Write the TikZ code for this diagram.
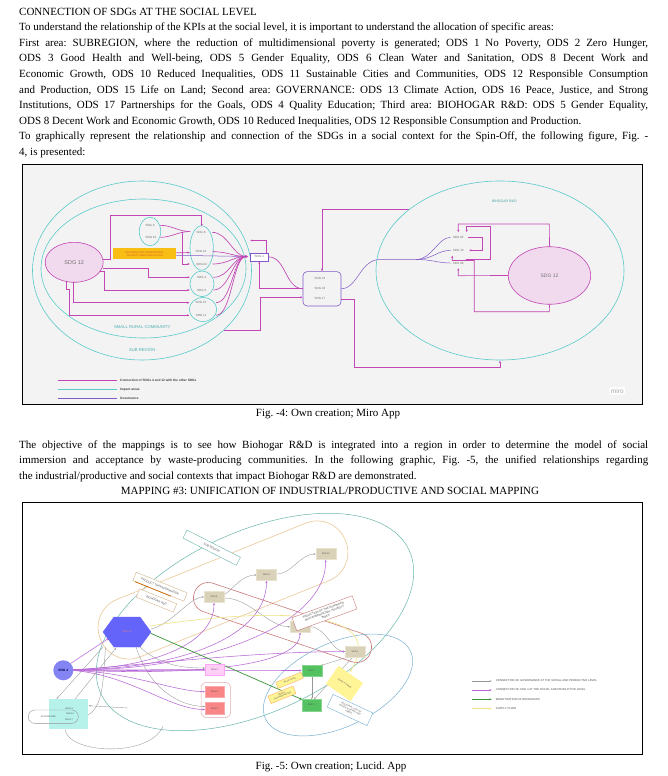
\documentclass[tikz,border=0pt]{standalone}
\usepackage{fontspec}
\setmainfont{Liberation Serif}
\setsansfont{Liberation Sans}
\usetikzlibrary{arrows.meta,shapes.geometric,calc}
\definecolor{mag}{RGB}{194,70,180}
\definecolor{tealc}{RGB}{90,202,202}
\definecolor{govp}{RGB}{128,88,200}
\definecolor{figbg}{RGB}{243,243,243}
\definecolor{pinkfill}{RGB}{241,218,238}
\definecolor{sdgtxt}{RGB}{110,110,110}
\definecolor{ylwbox}{RGB}{248,190,20}
\definecolor{ylwtxt}{RGB}{220,90,40}
\definecolor{tanfill}{RGB}{217,210,184}
\definecolor{tanedge}{RGB}{232,226,206}
\definecolor{glc}{RGB}{150,150,150}
\definecolor{sdgp}{RGB}{184,104,214}
\definecolor{mgreen}{RGB}{56,146,56}
\definecolor{supy}{RGB}{238,226,130}
\definecolor{orng}{RGB}{234,200,150}
\definecolor{redl}{RGB}{200,122,122}
\definecolor{bluel}{RGB}{120,176,210}
\definecolor{subt}{RGB}{104,182,172}
\definecolor{hexfill}{RGB}{100,100,250}
\definecolor{hextxt}{RGB}{236,130,120}
\definecolor{c4fill}{RGB}{132,132,244}
\definecolor{cyanf}{RGB}{182,242,234}
\definecolor{pinkb}{RGB}{255,206,246}
\definecolor{salmon}{RGB}{248,134,134}
\definecolor{grnf}{RGB}{84,194,96}
\definecolor{yfill}{RGB}{255,244,150}
\begin{document}
\frenchspacing
\begin{tikzpicture}[x=1pt,y=-1pt,
  body/.style={anchor=base west,inner sep=0pt,font=\fontsize{11}{13}\selectfont},
  bodyc/.style={anchor=base,inner sep=0pt,font=\fontsize{11}{13}\selectfont},
  tx/.style={inner sep=0pt,font=\sffamily\fontsize{3}{3.4}\selectfont,text=sdgtxt},
  mline/.style={draw=mag,line width=0.65pt},
  marr/.style={mline,-{Latex[length=2.4pt,width=2.2pt]}},
  gline/.style={draw=govp,line width=0.5pt},
  garr/.style={draw=glc,line width=0.35pt,-{Stealth[length=2pt,width=1.6pt]}},
  parr/.style={draw=sdgp,line width=0.55pt,-{Stealth[length=2.4pt,width=2pt]}},
  ft/.style={inner sep=0pt,font=\sffamily\fontsize{2.2}{2.6}\selectfont,text=black!70},
  tanbox/.style={ft,draw=tanedge,fill=tanfill,minimum width=20pt,minimum height=11pt},
  lg/.style={anchor=west,inner sep=0pt,font=\sffamily\bfseries\fontsize{3.2}{3.6}\selectfont,text=black!75},
  lg2/.style={anchor=west,inner sep=0pt,font=\sffamily\fontsize{2.8}{3.2}\selectfont,text=black!70},
]
\useasboundingbox (0,0) rectangle (667,776);
\fill[white] (0,0) rectangle (667,776);

% ---------------- text ----------------
\node[body] (l1) at (19,15.5) {CONNECTION OF SDGs AT THE SOCIAL LEVEL};
\node[body] (l2) at (19,31) {To understand the relationship of the KPIs at the social level, it is important to understand the allocation of specific areas:};
\node[body] (l3) at (19,46.5) {\makebox[629pt][s]{First area: SUBREGION, where the reduction of multidimensional poverty is generated; ODS 1 No Poverty, ODS 2 Zero Hunger,}};
\node[body] (l4) at (19,62) {\makebox[629pt][s]{ODS 3 Good Health and Well-being, ODS 5 Gender Equality, ODS 6 Clean Water and Sanitation, ODS 8 Decent Work and}};
\node[body] (l5) at (19,77.5) {\makebox[629pt][s]{Economic Growth, ODS 10 Reduced Inequalities, ODS 11 Sustainable Cities and Communities, ODS 12 Responsible Consumption}};
\node[body] (l6) at (19,93) {\makebox[629pt][s]{and Production, ODS 15 Life on Land; Second area: GOVERNANCE: ODS 13 Climate Action, ODS 16 Peace, Justice, and Strong}};
\node[body] (l7) at (19,108.5) {\makebox[629pt][s]{Institutions, ODS 17 Partnerships for the Goals, ODS 4 Quality Education; Third area: BIOHOGAR R\&D: ODS 5 Gender Equality,}};
\node[body] (l8) at (19,124) {ODS 8 Decent Work and Economic Growth, ODS 10 Reduced Inequalities, ODS 12 Responsible Consumption and Production.};
\node[body] (l9) at (19,139.5) {\makebox[629pt][s]{To graphically represent the relationship and connection of the SDGs in a social context for the Spin-Off, the following figure, Fig. -}};
\node[body] (l10) at (19,155) {4, is presented:};

\node[bodyc] (cap4) at (328,416.5) {Fig. -4: Own creation; Miro App};
\node[body] (p1) at (19,448) {\makebox[629pt][s]{The objective of the mappings is to see how Biohogar R\&D is integrated into a region in order to determine the model of social}};
\node[body] (p2) at (19,463.5) {\makebox[629pt][s]{immersion and acceptance by waste-producing communities. In the following graphic, Fig. -5, the unified relationships regarding}};
\node[body] (p3) at (19,479) {the industrial/productive and social contexts that impact Biohogar R\&D are demonstrated.};
\node[bodyc] (map) at (330,494.5) {MAPPING \#3: UNIFICATION OF INDUSTRIAL/PRODUCTIVE AND SOCIAL MAPPING};
\node[bodyc] (cap5) at (331,769.5) {Fig. -5: Own creation; Lucid. App};

% ---------------- figure 4 ----------------
\draw[black,line width=0.9pt,fill=figbg] (22.5,164) rectangle (642.5,404);

\draw[tealc,line width=0.6pt] (142,270.5) ellipse [x radius=109.5pt,y radius=89.5pt];
\draw[tealc,line width=0.6pt] (143.5,268.5) ellipse [x radius=102.5pt,y radius=69.5pt];
\node[inner sep=0pt,font=\sffamily\fontsize{4.2}{5}\selectfont,text=tealc!85!black] (src) at (142.3,327.3) {SMALL RURAL COMMUNITY};
\node[inner sep=0pt,font=\sffamily\fontsize{4.2}{5}\selectfont,text=tealc!85!black] (subr) at (142.3,350) {SUB REGIÓN};

\node[ellipse,draw=mag,line width=0.6pt,fill=pinkfill,minimum width=58pt,minimum height=40pt,inner sep=0pt,font=\sffamily\fontsize{5.5}{6}\selectfont,text=black!55] (s12) at (74.2,262.3) {SDG 12};

\draw[tealc,line width=0.6pt] (150,231.5) ellipse [x radius=10.7pt,y radius=14.3pt];
\draw[tealc,line width=0.6pt] (201.7,248) ellipse [x radius=11.7pt,y radius=22.2pt];
\draw[tealc,line width=0.6pt] (202,283.8) ellipse [x radius=12pt,y radius=12.8pt];
\draw[tealc,line width=0.6pt] (203,309.5) ellipse [x radius=13.7pt,y radius=12pt];

% SDG 12 connections
\draw[marr] (103.3,259.3) -- (110,259.3) -- (110,215) -- (201.7,215) -- (201.7,226.3);
\draw[marr] (102.6,268) -- (148.3,268) -- (148.3,277.3) -- (190,277.3);
\draw[marr] (100,271.5) -- (104.3,271.5) -- (104.3,290) -- (190,290);
\draw[marr] (73.3,282.3) -- (73.3,302.7) -- (189.5,302.7);
\draw[marr] (66,281.8) -- (66,289) -- (69,289) -- (69,315.3) -- (189.5,315.3);
\draw[mline] (160,225.3) .. controls (172,225.3) and (178,231.5) .. (190,231.5);
\draw[mline] (160.5,237.3) .. controls (172,237.3) and (178,231.5) .. (190,231.5);
\draw[marr] (182,231.5) -- (182,264) -- (190,264);

\node[fill=ylwbox,minimum width=62.7pt,minimum height=11pt,inner sep=0pt,align=center,font=\sffamily\fontsize{2.5}{2.9}\selectfont,text=ylwtxt] (ybox) at (144.7,253.8) {EXPANDED MULTIDIMENSIONAL\\POVERTY INDEX REDUCTION};
\draw[marr] (ybox.east) ++(0,-1) -- (190,252.5);
\draw[gline] (ybox.east) ++(0,1.5) -- (247.5,256.5);

% fan to hub
\foreach \xx/\yy in {212/232.3,212.5/251.7,212.5/264,213.5/277.3,213.5/290,216/302.7,216/315.3}
  \draw[marr] (\xx,\yy) .. controls (\xx+16,\yy) and (233,256.5) .. (248,256.5);

\node[tx] (t9) at (150,225.3) {SDG 9};
\node[tx] (t10) at (151,237.3) {SDG 10};
\node[tx] (t8) at (201,232.3) {SDG 8};
\node[tx] (t01) at (201,251.7) {SDG 01};
\node[tx] (t02) at (201.7,264) {SDG 02};
\node[tx] (t3) at (201.7,277.3) {SDG 3};
\node[tx] (t6) at (201.7,290) {SDG 6};
\node[tx] (t15) at (201,302.7) {SDG 15};
\node[tx] (t11) at (201,315.3) {SDG 11};

% SDG 4 and governance
\node[draw=govp,line width=0.5pt,fill=white,minimum width=18.3pt,minimum height=7.7pt,inner sep=0pt,font=\sffamily\fontsize{3}{3.4}\selectfont,text=sdgtxt] (s4) at (259.2,256.9) {SDG 4};
\draw[marr] (266.5,253) -- (266.5,240.5) -- (250,240.5);
\node[draw=govp,line width=0.6pt,rounded corners=4pt,fill=figbg,minimum width=38pt,minimum height=34.3pt,inner sep=0pt] (gov) at (322,288.8) {};
\node[tx] (g13) at (320,278.7) {SDG 13};
\node[tx] (g16) at (320,288.7) {SDG 16};
\node[tx] (g17) at (320,298.7) {SDG 17};
\draw[mline] (s4.east) .. controls (286,257) and (285,288.3) .. (gov.west);
\draw[marr] (303,288.3) -- (259.3,288.3) -- (259.3,261.3);
\draw[marr] (223.8,330) -- (260,330) -- (260,297.3) -- (302.7,297.3);
\draw[marr] (409.3,209.5) -- (322,209.5) -- (gov.north);
\draw[marr] (341,299.3) -- (354,299.3) -- (354,367.3) -- (500,367.3) -- (500,360.5);

% Biohogar
\draw[tealc,line width=0.6pt] (500,270.5) ellipse [x radius=124pt,y radius=89.5pt];
\node[inner sep=0pt,font=\sffamily\fontsize{3.5}{4}\selectfont,text=tealc!80!black] (bih) at (504.3,201) {BIHOGAR R\&D};
\node[ellipse,draw=mag,line width=0.6pt,fill=pinkfill,minimum width=82.4pt,minimum height=57.6pt,inner sep=0pt,font=\sffamily\fontsize{5}{6}\selectfont,text=black!55] (b12) at (549.5,275.5) {SDG 12};
\node[tx] (b05) at (458.3,237.3) {SDG 05};
\node[tx] (b10) at (458.3,250.3) {SDG 10};
\node[tx] (b08) at (458.3,263) {SDG 08};
\draw[gline] (gov.east) .. controls (358,288.3) and (360,259.5) .. (380,259.5) -- (416,259.5);
\draw[gline] (416,259.5) .. controls (432,259.5) and (438,237.3) .. (450.5,237.3);
\draw[gline] (416,259.5) .. controls (432,259.5) and (438,250.3) .. (450.5,250.3);
\draw[gline] (416,259.5) .. controls (432,259.5) and (438,263) .. (450.5,263);
\draw[marr] (b12.north) -- (549.3,224) -- (458.3,224) -- (458.3,232.3);
\draw[marr] (465.5,259.3) -- (490,259.3) -- (490,226.5) -- (466.7,226.5) -- (466.7,232.3);
\draw[marr] (468.3,237.3) -- (482.7,237.3) -- (482.7,250.3) -- (469,250.3);
\draw[marr] (b12.west) -- (458.3,275.7) -- (458.3,268);
\draw[marr] (b12.south) -- (549.3,311.7) -- (474.3,311.7) -- (474.3,260.5) -- (452.3,260.5) -- (452.3,255.5);

% legend fig 4
\draw[mag,line width=0.8pt] (58.3,380) -- (116.7,380);
\node[lg] (lga) at (120,380) {Connection of SDGs 4 and 12 with the other SDGs};
\draw[tealc,line width=0.8pt] (58.3,389.3) -- (116.7,389.3);
\node[lg] (lgb) at (120,389.3) {Impact areas};
\draw[govp,line width=0.8pt] (58.3,398.3) -- (116.7,398.3);
\node[lg] (lgc) at (120,398.3) {Governance};
\node[fill=white!92!figbg,rounded corners=1pt,inner sep=1.5pt,font=\sffamily\fontsize{6.5}{7}\selectfont,text=black!35] (miro) at (617.3,390.7) {miro};

% ---------------- figure 5 ----------------
\draw[black,line width=0.9pt,fill=white] (22.5,502) rectangle (642.5,754.5);

\draw[subt,line width=0.5pt,rotate around={25:(255,622)}] (255,622) ellipse [x radius=170pt,y radius=90pt];
\draw[orng,line width=0.6pt,rotate around={22:(223,590)},rounded corners=30pt] (91,559) rectangle (355,621);
\draw[redl,line width=0.6pt,rotate around={-18.6:(282.5,622.5)},rounded corners=14.5pt] (189.5,607.5) rectangle (375.5,637.5);
\draw[bluel,line width=0.5pt,rotate around={25:(338,685)}] (338,685) ellipse [x radius=80pt,y radius=42pt];
\draw[redl!60,line width=0.5pt,rounded corners=6pt] (201,682.3) rectangle (230.7,717.7);

\node[draw=subt,fill=white,rotate=-27,minimum width=60pt,minimum height=9pt,ft,font=\sffamily\fontsize{2.8}{3}\selectfont] (subl) at (211.7,547.7) {SUB REGION};
\node[draw=orng!90!black,fill=white,rotate=-22,minimum width=55pt,minimum height=9pt,ft,font=\sffamily\fontsize{2.8}{3}\selectfont] (ptl) at (160,586.7) {PRODUCT TRANSFORMATION};
\node[draw=orng!90!black,fill=white,rotate=-22,minimum width=40pt,minimum height=9pt,ft,font=\sffamily\fontsize{2.8}{3}\selectfont] (bhl) at (156.5,600.5) {BIOHOGAR R\&D};
\draw[orange!80!black,line width=0.7pt] ($(ptl.south west)!0.05!(ptl.south east)$) -- ($(ptl.south west)!0.75!(ptl.south east)$);

% gray governance connectors
\draw[garr] (151,629) .. controls (172,624) and (190,597) .. (204,597);
\draw[garr] (224,595) .. controls (234,588) and (242,575) .. (256.5,575);
\draw[garr] (276.5,574) .. controls (292,574) and (300,554) .. (315.7,554);
\draw[garr] (224,598) .. controls (250,598) and (268,626.7) .. (290,626.7);
\draw[garr] (310,626.7) .. controls (326,627) and (332,651.5) .. (345,651.5);
\draw[garr] (348,657) -- (321,665.5);
\draw[garr] (353,657) -- (314,699.3);
\draw[garr] (311.7,676) -- (311.7,699.3);
\draw[garr] (103.3,646.7) -- (56.7,698.8);
\draw[garr] (75,699) -- (116,648);
\draw[garr] (105.5,647) .. controls (103,680) and (104,716.5) .. (78.6,716.8);
\draw[garr] (128,708) -- (88.8,705.7);
\draw[glc,line width=0.35pt] (65,729.3) .. controls (68,754) and (150,758) .. (163,726);
\draw[garr] (140,647) .. controls (160,666) and (185,668) .. (205,668);
\draw[garr] (136,647) .. controls (150,690) and (180,706) .. (205,706.5);

% purple SDG 4 connectors
\draw[parr] (70.5,663.5) -- (108.5,638.5);
\draw[parr] (73.3,669.5) .. controls (150,668) and (214,645) .. (214,602.8);
\draw[parr] (73.3,669.5) .. controls (170,670) and (266.5,640) .. (266.5,580.8);
\draw[parr] (73.3,669.5) .. controls (190,672) and (325.7,630) .. (325.7,559.8);
\draw[parr] (73.3,670) .. controls (200,676) and (300,665) .. (300,632.5);
\draw[parr] (73.3,670) .. controls (150,664) and (250,652) .. (345,651.5);
\draw[parr] (73.3,670) -- (205,669.6);
\draw[parr] (73.3,670) .. controls (150,671) and (250,670.5) .. (301.7,670.5);
\draw[parr] (73.3,670.5) .. controls (130,672) and (175,691.6) .. (205,691.6);
\draw[parr] (73.3,670.5) .. controls (130,675) and (170,709.5) .. (205,709.5);

% green and yellow
\draw[mgreen,line width=0.7pt,-{Stealth[length=2.6pt,width=2.2pt]}] (150.7,633.3) -- (302,699.5);
\draw[supy,line width=0.6pt,-{Stealth[length=2.6pt,width=2.2pt]}] (150,626) .. controls (240,612) and (395,600) .. (350,672);

% hexagon, circle, boxes
\draw[fill=hexfill,draw=hexfill] (103,632) -- (114,617) -- (140,617) -- (151,632) -- (140,647) -- (114,647) -- cycle;
\node[inner sep=0pt,font=\sffamily\fontsize{2.6}{3}\selectfont,text=hextxt] (hex) at (127,632) {SDG 12};
\node[circle,fill=c4fill,minimum size=20pt,inner sep=0pt,font=\sffamily\bfseries\fontsize{3.2}{3.6}\selectfont,text=blue!30!black] (c4) at (63.3,670.3) {SDG 4};
\node[fill=cyanf,minimum width=39pt,minimum height=30.3pt,inner sep=0pt] (cy) at (68.8,714.2) {};
\draw[glc,line width=0.4pt,rounded corners=6.6pt] (28.3,710) rectangle (78.3,723.4);
\node[ft] (auth) at (48.3,717) {AUTHORITIES};
\node[ft] (c13) at (69,708.3) {SDG 13};
\node[ft] (c16) at (70,714) {SDG 16};
\node[ft] (c17) at (69,719.5) {SDG 17};

\node[tanbox] (d8) at (214,597) {SDG 8};
\node[tanbox] (d5) at (266.5,575) {SDG 5};
\node[tanbox] (d10) at (325.7,554) {SDG 10};
\node[tanbox] (d3) at (300,626.7) {SDG 3};
\node[tanbox] (d1) at (355,651.5) {SDG 1};
\node[ft,draw=pinkb!80!magenta,fill=pinkb,minimum width=19pt,minimum height=10.7pt] (d2) at (214.5,669.6) {SDG 2};
\node[ft,draw=salmon!70!white,fill=salmon,minimum width=19pt,minimum height=11.3pt] (d6) at (214.5,691.6) {SDG 6};
\node[ft,draw=salmon!70!white,fill=salmon,minimum width=19pt,minimum height=11.3pt] (d9r) at (214.5,708.3) {SDG 9};
\node[ft,draw=grnf!70!white,fill=grnf,minimum width=20pt,minimum height=11pt] (d7) at (311.7,670.5) {SDG 7};
\node[ft,draw=grnf!70!white,fill=grnf,minimum width=19pt,minimum height=11.4pt] (d9) at (311.2,705) {SDG 9};

\node[ft,font=\sffamily\fontsize{2}{2.3}\selectfont,draw=orange!60,fill=yfill,rotate=22,minimum width=27pt,minimum height=6.5pt] (yv) at (289.5,680.3) {VALUE CHAIN};
\node[ft,font=\sffamily\fontsize{2}{2.3}\selectfont,draw=orange!60,fill=yfill,rotate=22,minimum width=27pt,minimum height=8pt,align=center] (yw) at (282,694.8) {WASTE\\TRANSFORMATION};
\node[ft,fill=yfill,rotate=-35,minimum width=30pt,minimum height=22pt] (sup) at (344.5,683.5) {SUPPLY CHAIN};
\node[ft,draw=bluel,fill=white,rotate=-25,minimum width=44pt,minimum height=14pt,align=center] (ind) at (350,710) {INDUSTRIAL USE OF\\WASTE (COFFEE AND\\HEMP)};
\node[ft,draw=redl,fill=white,rotate=20,minimum width=64pt,minimum height=14pt,align=center,font=\sffamily\fontsize{2.8}{3.5}\selectfont] (redlab) at (324.5,613.3) {REDUCTION OF THE EXPANDED\\MULTIDIMENSIONAL POVERTY\\INDEX};

% legend fig 5
\draw[garr] (471.7,681) -- (491.7,681);
\node[lg2] (k1) at (495.7,681) {CONNECTION OF GOVERNANCE AT THE SOCIAL AND PRODUCTIVE LEVEL};
\draw[parr] (471.7,690) -- (491.7,690);
\node[lg2] (k2) at (495.7,690) {CONNECTION OF SDG 4 AT THE SOCIAL AND PRODUCTIVE LEVEL};
\draw[mgreen,line width=0.6pt,-{Stealth[length=2.2pt,width=1.8pt]}] (471.7,699.3) -- (491.7,699.3);
\node[lg2] (k3) at (495.7,699.3) {MONETIZATION OF RESOURCES};
\draw[supy,line width=0.6pt,-{Stealth[length=2.2pt,width=1.8pt]}] (471.7,708.7) -- (491.7,708.7);
\node[lg2] (k4) at (495.7,708.7) {SUPPLY CHAIN};
\end{tikzpicture}
\end{document}
